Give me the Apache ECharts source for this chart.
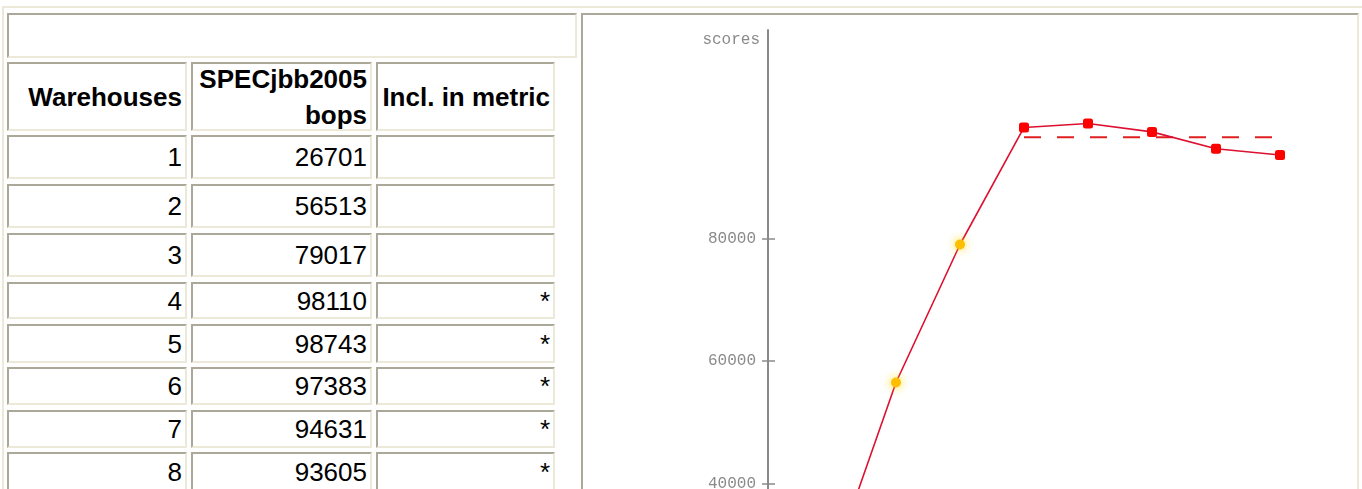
<!DOCTYPE html>
<html>
<head>
<meta charset="utf-8">
<script src="https://cdn.jsdelivr.net/npm/echarts@6/dist/echarts.min.js"></script>
<style>
html,body{margin:0;padding:0;width:1362px;height:489px;overflow:hidden;background:#fff;}
.frame{position:absolute;left:2px;top:6px;width:1400px;height:600px;box-sizing:border-box;border:2px solid #ECE9D8;}
.box{position:absolute;box-sizing:border-box;border-style:solid;border-width:2px;border-color:#ACA899 #ECE9D8 #ECE9D8 #ACA899;background:#fff;}
.cell{font-family:"Liberation Sans",Arial,sans-serif;font-size:26px;line-height:30px;color:#000;display:flex;align-items:center;justify-content:flex-end;text-align:right;padding-right:3px;}
.head{font-weight:bold;line-height:36px;}
#chart{position:absolute;left:583px;top:15px;width:773px;height:800px;}
</style>
</head>
<body>
<div class="frame"></div>
<div id="table"></div>
<div class="box" style="left:581px;top:13px;width:778px;height:600px;"></div>
<div id="chart"></div>
<script>
// ---- data ----
const headers = ['Warehouses', ['SPECjbb2005', 'bops'], 'Incl. in metric'];
const warehouses = [1, 2, 3, 4, 5, 6, 7, 8];
const bops = [26701, 56513, 79017, 98110, 98743, 97383, 94631, 93605];
const inclInMetric = ['', '', '', '*', '*', '*', '*', '*'];
const metricScore = 96494;
const yTickValues = [0, 20000, 40000, 60000, 80000];
const yAxisName = 'scores';

// ---- layout (styles only) ----
const colLeft = [7, 191, 376];
const colWidth = [180, 181, 179];
const headTop = 62, headHeight = 69;
const rowTop = [135, 184, 233, 282, 324, 367, 410, 452];
const rowHeight = [44, 44, 44, 37, 39, 38, 38, 40];

const tbl = document.getElementById('table');
function addCell(left, top, w, h, html, cls) {
  const d = document.createElement('div');
  d.className = 'box cell ' + (cls || '');
  d.style.left = left + 'px'; d.style.top = top + 'px';
  d.style.width = w + 'px'; d.style.height = h + 'px';
  d.innerHTML = html;
  tbl.appendChild(d);
}
// empty caption cell
addCell(7, 13, 570, 45, '', '');
headers.forEach((h, i) => {
  const html = Array.isArray(h) ? h.join('<br>') : h;
  addCell(colLeft[i], headTop, colWidth[i], headHeight, '<div>' + html + '</div>', 'head');
});
warehouses.forEach((w, r) => {
  const vals = [String(w), String(bops[r]), inclInMetric[r]];
  vals.forEach((v, c) => addCell(colLeft[c], rowTop[r], colWidth[c], rowHeight[r], v, ''));
});

// ---- chart ----
const chart = echarts.init(document.getElementById('chart'), null, {renderer: 'canvas'});
const lineData = warehouses.map((w, i) => ({
  value: [w, bops[i]],
  symbol: inclInMetric[i] === '*' ? 'roundRect' : 'circle',
  symbolSize: inclInMetric[i] === '*' ? 10 : 10,
  itemStyle: inclInMetric[i] === '*'
    ? {color: '#ff0000', borderWidth: 0}
    : {color: '#ffbf00', borderWidth: 0, shadowBlur: 10, shadowColor: 'rgba(255,220,0,0.95)'}
}));
const inclW = warehouses.filter((w, i) => inclInMetric[i] === '*');
const metricData = [[inclW[0], metricScore], [inclW[inclW.length - 1], metricScore]];

const axisGray = '#8a8a8a';
chart.setOption({
  animation: false,
  backgroundColor: 'transparent',
  grid: {left: 185, top: 15, right: 12, height: 699},
  xAxis: {type: 'value', min: 0, max: 9, show: false},
  yAxis: [{
    type: 'value', min: 0, max: 114000, position: 'left',
    name: yAxisName, nameLocation: 'end', nameGap: -10,
    nameTextStyle: {fontFamily: 'Liberation Mono', fontSize: 16, color: axisGray, align: 'right', verticalAlign: 'middle', padding: [0, 8, 0, 0]},
    axisLine: {show: true, lineStyle: {color: axisGray, width: 2}},
    axisTick: {show: true, length: 6, customValues: yTickValues, lineStyle: {color: axisGray, width: 1.5}},
    axisLabel: {customValues: yTickValues, margin: 12, fontFamily: 'Liberation Mono', fontSize: 16, color: axisGray,
      formatter: v => String(v)},
    splitLine: {show: false}
  }, {
    type: 'value', min: 0, max: 114000, position: 'left', offset: 0,
    axisLine: {show: false},
    axisTick: {show: true, inside: true, length: 7, customValues: yTickValues, lineStyle: {color: axisGray, width: 1.5}},
    axisLabel: {show: false},
    splitLine: {show: false}
  }],
  series: [{
    type: 'line', data: lineData, yAxisIndex: 0,
    lineStyle: {color: '#dd1030', width: 1.6},
    z: 3
  }, {
    type: 'line', data: metricData, yAxisIndex: 0, symbol: 'none',
    lineStyle: {color: '#e02020', width: 2, type: [17, 16]},
    z: 2
  }]
});
</script>
</body>
</html>
